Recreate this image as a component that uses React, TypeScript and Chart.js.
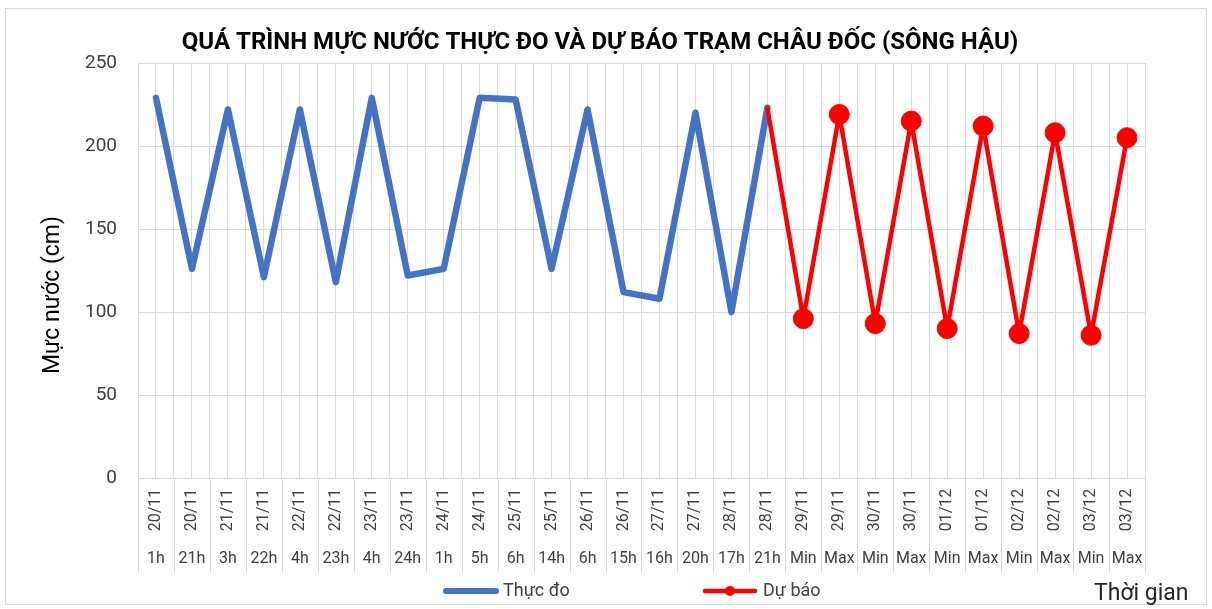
import React, { useEffect, useRef } from "react";
import { Chart, registerables } from "chart.js";

Chart.register(...registerables);

const FONT = "Roboto, 'Noto Sans', sans-serif";

const titleText = "QUÁ TRÌNH MỰC NƯỚC THỰC ĐO VÀ DỰ BÁO TRẠM CHÂU ĐỐC (SÔNG HẬU)";
const yTitle = "Mực nước (cm)";
const xTitle = "Thời gian";
const observedLabel = "Thực đo";
const forecastLabel = "Dự báo";

const dates = [
  "20/11", "20/11", "21/11", "21/11", "22/11", "22/11", "23/11", "23/11", "24/11", "24/11",
  "25/11", "25/11", "26/11", "26/11", "27/11", "27/11", "28/11", "28/11", "29/11", "29/11",
  "30/11", "30/11", "01/12", "01/12", "02/12", "02/12", "03/12", "03/12",
];
const hours = [
  "1h", "21h", "3h", "22h", "4h", "23h", "4h", "24h", "1h", "5h",
  "6h", "14h", "6h", "15h", "16h", "20h", "17h", "21h", "Min", "Max",
  "Min", "Max", "Min", "Max", "Min", "Max", "Min", "Max",
];
// measured water level (cm), indices 0..17
const observed = [229, 126, 222, 121, 222, 118, 229, 122, 126, 229, 228, 126, 222, 112, 108, 220, 100, 223];
// forecast (cm), starts at index 17 (joins last observed point)
const forecastStart = 17;
const forecast = [223, 96, 219, 93, 215, 90, 212, 87, 208, 86, 205];

const yMin = 0;
const yMax = 250;
const yStep = 50;

const GRID = "#d9d9d9";
const BLUE = "#4472C4";
const RED = "#FF0000";
const TEXT = "#404040";

const decorPlugin = {
  id: "decor",
  beforeDraw(chart: any) {
    const { ctx, width, height } = chart;
    ctx.save();
    ctx.fillStyle = "#ffffff";
    ctx.fillRect(0, 0, width, height);
    ctx.strokeStyle = GRID;
    ctx.lineWidth = 1;
    ctx.strokeRect(5.5, 8.5, width - 11, height - 13);
    ctx.restore();
  },
  afterDraw(chart: any) {
    const { ctx, chartArea } = chart;
    const xs = chart.scales.x;
    const n = dates.length;
    const cw = xs.getPixelForValue(1) - xs.getPixelForValue(0);
    ctx.save();
    // category separators below the axis
    ctx.strokeStyle = GRID;
    ctx.lineWidth = 1;
    for (let i = 0; i <= n; i++) {
      const bx = Math.round(xs.getPixelForValue(0) - cw / 2 + i * cw) + 0.5;
      ctx.beginPath();
      ctx.moveTo(bx, chartArea.bottom);
      ctx.lineTo(bx, 572);
      ctx.stroke();
    }
    // labels
    ctx.fillStyle = TEXT;
    ctx.font = `16px ${FONT}`;
    for (let i = 0; i < n; i++) {
      const x = xs.getPixelForValue(i);
      ctx.save();
      ctx.translate(x, 510);
      ctx.rotate(-Math.PI / 2);
      ctx.textAlign = "center";
      ctx.textBaseline = "middle";
      ctx.fillText(dates[i], 0, 0);
      ctx.restore();
      ctx.textAlign = "center";
      ctx.textBaseline = "middle";
      ctx.fillText(hours[i], x, 559);
    }
    // title
    ctx.fillStyle = "#000000";
    ctx.font = `bold 24px ${FONT}`;
    ctx.textAlign = "center";
    ctx.textBaseline = "middle";
    ctx.fillText(titleText, 600, 43);
    // y title
    ctx.save();
    ctx.translate(53, 295);
    ctx.rotate(-Math.PI / 2);
    ctx.font = `23px ${FONT}`;
    ctx.fillStyle = "#000000";
    ctx.fillText(yTitle, 0, 0);
    ctx.restore();
    // x title
    ctx.font = `23px ${FONT}`;
    ctx.fillStyle = "#262626";
    ctx.textAlign = "left";
    ctx.fillText(xTitle, 1094, 594);
    // legend
    ctx.lineCap = "round";
    ctx.strokeStyle = BLUE;
    ctx.lineWidth = 6;
    ctx.beginPath();
    ctx.moveTo(446, 591);
    ctx.lineTo(496, 591);
    ctx.stroke();
    ctx.font = `18px ${FONT}`;
    ctx.fillStyle = TEXT;
    ctx.textAlign = "left";
    ctx.fillText(observedLabel, 503, 591);
    ctx.strokeStyle = RED;
    ctx.lineWidth = 4.5;
    ctx.beginPath();
    ctx.moveTo(705, 591);
    ctx.lineTo(755, 591);
    ctx.stroke();
    ctx.fillStyle = RED;
    ctx.beginPath();
    ctx.arc(730, 591, 5, 0, Math.PI * 2);
    ctx.fill();
    ctx.fillStyle = TEXT;
    ctx.fillText(forecastLabel, 763, 591);
    ctx.restore();
  },
};

export default function App() {
  const ref = useRef<HTMLCanvasElement | null>(null);
  useEffect(() => {
    document.body.style.margin = "0";
    const canvas = ref.current;
    if (!canvas) return;
    const obsData = dates.map((_, i) => (i < observed.length ? observed[i] : null));
    const fcData = dates.map((_, i) =>
      i >= forecastStart && i - forecastStart < forecast.length ? forecast[i - forecastStart] : null
    );
    const labels = dates.map((d, i) => `${d} ${hours[i]}`);
    const chart = new Chart(canvas, {
      type: "line",
      data: {
        labels,
        datasets: [
          {
            label: observedLabel,
            data: obsData,
            borderColor: BLUE,
            backgroundColor: BLUE,
            borderWidth: 6.5,
            borderJoinStyle: "round",
            borderCapStyle: "round",
            pointRadius: 0,
            pointHoverRadius: 0,
            tension: 0,
            order: 2,
          },
          {
            label: forecastLabel,
            data: fcData,
            borderColor: RED,
            backgroundColor: RED,
            borderWidth: 4.5,
            borderJoinStyle: "round",
            borderCapStyle: "round",
            pointRadius: (c: any) => (c.dataIndex === forecastStart ? 0 : 10),
            pointBorderWidth: 1,
            pointBorderColor: RED,
            pointBackgroundColor: RED,
            tension: 0,
            order: 1,
          },
        ],
      },
      options: {
        responsive: false,
        animation: false,
        devicePixelRatio: 1,
        layout: { padding: { top: 63, right: 67, bottom: 0, left: 0 } },
        plugins: {
          legend: { display: false },
          title: { display: false },
          tooltip: { enabled: false },
        },
        scales: {
          x: {
            type: "category",
            position: "bottom",
            offset: true,
            grid: { display: true, offset: true, color: GRID, lineWidth: 1, drawTicks: false },
            border: { display: true, color: GRID, width: 1 },
            ticks: { display: false },
            afterFit: (s: any) => {
              s.height = 131;
            },
          },
          x2: {
            type: "category",
            position: "bottom",
            offset: true,
            grid: { display: true, offset: false, color: GRID, lineWidth: 1, drawTicks: false },
            border: { display: false },
            ticks: { display: false },
            afterFit: (s: any) => {
              s.height = 0;
            },
          },
          y: {
            min: yMin,
            max: yMax,
            ticks: {
              stepSize: yStep,
              padding: 21,
              color: TEXT,
              font: { family: FONT, size: 19 },
            },
            grid: { color: GRID, lineWidth: 1, drawTicks: false },
            border: { display: true, color: GRID, width: 1 },
            afterFit: (s: any) => {
              s.width = 138;
            },
          },
        },
      },
      plugins: [decorPlugin],
    });
    return () => chart.destroy();
  }, []);
  return <canvas ref={ref} width={1212} height={609} style={{ display: "block" }} />;
}
